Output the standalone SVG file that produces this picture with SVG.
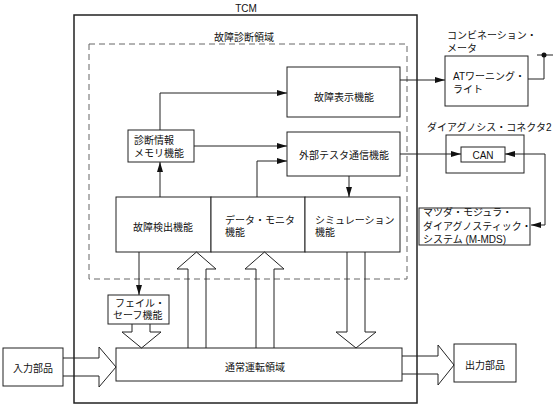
<svg xmlns="http://www.w3.org/2000/svg" width="555" height="406" viewBox="0 0 555 406">
<style>
text{font-family:"Liberation Sans","Noto Sans CJK JP",sans-serif;font-size:10px;fill:#111;dominant-baseline:central}
.box{fill:#fff;stroke:#222;stroke-width:1}
.ln{fill:none;stroke:#222;stroke-width:1}
.blk{fill:none;stroke:#222;stroke-width:1}
.dash{fill:none;stroke:#666;stroke-width:1;stroke-dasharray:6 4}
.mid{text-anchor:middle}
</style>
<defs>
<marker id="ah" markerUnits="userSpaceOnUse" markerWidth="10" markerHeight="6" refX="10" refY="3" orient="auto-start-reverse">
<path d="M0,0 L10,3 L0,6 z" fill="#111"/>
</marker>
</defs>
<rect x="0" y="0" width="555" height="406" fill="#fff"/>

<g id="tcm">
<rect x="74" y="15" width="343" height="388" fill="none" stroke="#222" stroke-width="1.5"/>
<text x="246" y="8" class="mid">TCM</text>
</g>

<g id="diag-area">
<rect x="89" y="44" width="318" height="235" class="dash"/>
<text x="244" y="37" class="mid">故障診断領域</text>
</g>

<g id="fault-display">
<rect x="287" y="67" width="113" height="50" class="box"/>
<text x="344" y="97" class="mid">故障表示機能</text>
</g>

<g id="ext-tester">
<rect x="287" y="132" width="113" height="44" class="box"/>
<text x="344" y="155" class="mid">外部テスタ通信機能</text>
</g>

<g id="memory">
<rect x="128" y="130" width="66" height="32" class="box"/>
<text x="134" y="140">診断情報</text>
<text x="134" y="153">メモリ機能</text>
</g>

<g id="detect">
<rect x="116" y="197" width="95" height="55" class="box"/>
<text x="163" y="227" class="mid">故障検出機能</text>
</g>

<g id="monitor">
<rect x="211" y="197" width="94" height="55" class="box"/>
<text x="225" y="220">データ・モニタ</text>
<text x="225" y="232">機能</text>
</g>

<g id="simulation">
<rect x="305" y="197" width="95" height="55" class="box"/>
<text x="315" y="220">シミュレーション</text>
<text x="315" y="232">機能</text>
</g>

<g id="failsafe">
<rect x="108" y="295" width="61" height="29" class="box"/>
<text x="115" y="303">フェイル・</text>
<text x="113" y="315">セーフ機能</text>
</g>

<g id="normal">
<rect x="116" y="348" width="286" height="33" class="box"/>
<text x="255" y="367" class="mid">通常運転領域</text>
</g>

<g id="input">
<rect x="3" y="348" width="60" height="38" class="box"/>
<text x="33" y="368" class="mid">入力部品</text>
</g>

<g id="output">
<rect x="454" y="344" width="62" height="38" class="box"/>
<text x="485" y="365" class="mid">出力部品</text>
</g>

<g id="combination-meter">
<text x="447" y="35">コンビネーション・</text>
<text x="447" y="48">メータ</text>
<rect x="445" y="56" width="83" height="50" class="box"/>
<text x="453" y="76">ATワーニング・</text>
<text x="453" y="89">ライト</text>
</g>

<g id="connector2">
<text x="427" y="127">ダイアグノシス・コネクタ2</text>
<rect x="446" y="135" width="78" height="38" class="box"/>
<rect x="461" y="147" width="44" height="15" class="box"/>
<text x="483" y="155" class="mid">CAN</text>
</g>

<g id="mmds">
<rect x="419" y="208" width="111" height="37" class="box"/>
<text x="423" y="212">マツダ・モジュラ・</text>
<text x="423" y="226">ダイアグノスティック・</text>
<text x="423" y="239">システム (M-MDS)</text>
</g>

<g id="connectors">
<path class="ln" d="M160,130 V93 H287" marker-end="url(#ah)"/>
<path class="ln" d="M194,146 H287" marker-end="url(#ah)"/>
<path class="ln" d="M257,197 V161 H287" marker-end="url(#ah)"/>
<path class="ln" d="M160,197 V162" marker-end="url(#ah)"/>
<path class="ln" d="M349,176 V197" marker-end="url(#ah)"/>
<path class="ln" d="M400,80 H445" marker-end="url(#ah)"/>
<path class="ln" d="M400,154 H461" marker-end="url(#ah)"/>
<path class="ln" d="M505,154 H545 V225 H531" marker-start="url(#ah)" marker-end="url(#ah)"/>
<path class="ln" d="M139,252 V295" marker-end="url(#ah)"/>
<path class="ln" d="M528,79 H544 V55"/>
<path class="ln" d="M537,55 H553"/>
<circle cx="544" cy="55" r="2.5" fill="#111"/>
<path class="blk" d="M63,358 H99 V347 L116,367 L99,387 V376 H63"/>
<path class="blk" d="M402,356 H438 V345 L454,365 L438,385 V374 H402"/>
<path class="blk" d="M132,324 V332 H122 L141.5,348 L161,332 H150 V324"/>
<path class="blk" d="M188,348 V269 H177 L196.5,252 L216,269 H206 V348"/>
<path class="blk" d="M256,348 V269 H245 L264.5,252 L284,269 H274 V348"/>
<path class="blk" d="M347,252 V332 H336 L356,348 L376,332 H365 V252"/>
</g>
</svg>
